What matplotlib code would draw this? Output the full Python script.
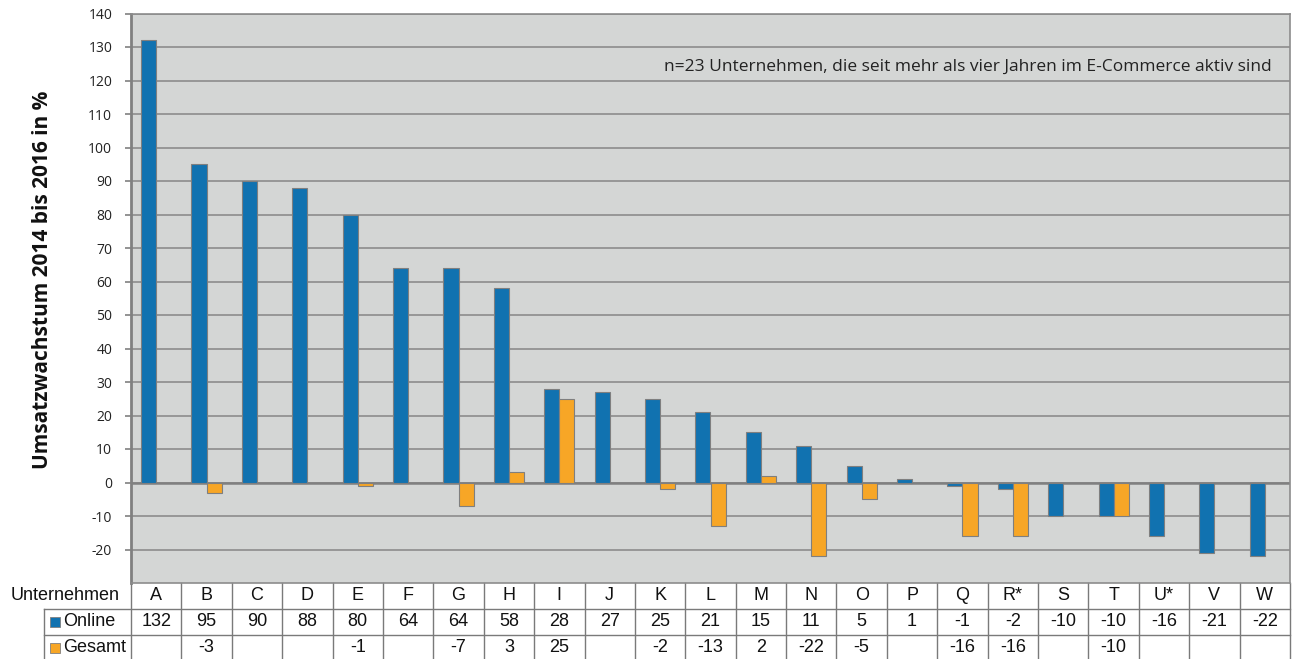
import matplotlib
matplotlib.use("Agg")
import matplotlib.pyplot as plt
import matplotlib.transforms as mtransforms
import numpy as np

# data
firmen = ["A", "B", "C", "D", "E", "F", "G", "H", "I", "J", "K", "L", "M",
          "N", "O", "P", "Q", "R*", "S", "T", "U*", "V", "W"]
online = [132, 95, 90, 88, 80, 64, 64, 58, 28, 27, 25, 21, 15,
          11, 5, 1, -1, -2, -10, -10, -16, -21, -22]
gesamt = [None, -3, None, None, -1, None, -7, 3, 25, None, -2, -13, 2,
          -22, -5, None, -16, -16, None, -10, None, None, None]
yticks = list(range(-20, 141, 10))

BLUE = "#1172B0"
ORANGE = "#F7A626"
EDGE = "#7f7f7f"
BG = "#D4D6D5"

W, H = 1295, 659
ax_l, ax_r, ax_t, ax_b = 131, 1290, 13.5, 583
fig = plt.figure(figsize=(W / 100, H / 100), dpi=100)
ax = fig.add_axes([ax_l / W, 1 - ax_b / H, (ax_r - ax_l) / W, (ax_b - ax_t) / H])
ax.set_facecolor(BG)

x = np.arange(len(firmen))
w = 0.3
ax.bar(x - w / 2, online, width=w, color=BLUE, edgecolor=EDGE, linewidth=0.8, zorder=3)
g_x = [i for i, v in enumerate(gesamt) if v is not None]
g_v = [v for v in gesamt if v is not None]
ax.bar(np.array(g_x) + w / 2, g_v, width=w, color=ORANGE, edgecolor=EDGE, linewidth=0.8, zorder=3)

ax.set_xlim(-0.5, len(firmen) - 0.5)
ax.set_ylim(-30, 140)
ax.set_yticks(yticks)
ax.set_yticklabels([str(t) for t in yticks], fontsize=10, family="Open Sans", color="#222222")
ax.set_xticks([])
ax.yaxis.grid(True, color="#8c8c8c", linewidth=1.2, zorder=1)
ax.axhline(0, color="#808080", linewidth=1.8, zorder=2)
ax.tick_params(axis="y", length=4.5, color="#808080", width=1.2, pad=9)
for s in ax.spines.values():
    s.set_color("#8c8c8c")
    s.set_linewidth(1.2)
ax.spines["left"].set_color("#808080")
ax.spines["left"].set_linewidth(2)

fig.text(43 / W, 1 - 280 / H, "Umsatzwachstum 2014 bis 2016 in %", rotation=90,
         ha="center", va="center", fontsize=15, fontweight="bold",
         family="Open Sans", color="#111111")

ax.text((1272 - ax_l) / (ax_r - ax_l), 124.2,
        "n=23 Unternehmen, die seit mehr als vier Jahren im E-Commerce aktiv sind",
        transform=mtransforms.blended_transform_factory(ax.transAxes, ax.transData),
        ha="right", va="center", fontsize=12.5, family="Open Sans", color="#222222")

# data table below the plot
tr = mtransforms.blended_transform_factory(ax.transData, ax.transAxes)
colw = (ax_r - ax_l) / len(firmen)
rh = 26 / (ax_b - ax_t)
n = len(firmen)
left_lab = -0.5 - (ax_l - 44) / colw
line_kw = dict(color="#7a7a7a", linewidth=1.0, transform=tr, clip_on=False)
tfont = dict(family="Liberation Sans", fontsize=13, color="#111111", transform=tr,
             clip_on=False, va="center")

# horizontal lines
ax.plot([left_lab, n - 0.5], [-rh, -rh], **line_kw)
ax.plot([left_lab, n - 0.5], [-2 * rh, -2 * rh], **line_kw)
ax.plot([left_lab, n - 0.5], [-3 * rh, -3 * rh], **line_kw)
# vertical lines
for k in range(n + 1):
    ax.plot([k - 0.5, k - 0.5], [0, -3 * rh], **line_kw)
ax.plot([left_lab, left_lab], [-rh, -3 * rh], **line_kw)

for i, name in enumerate(firmen):
    ax.text(i, -0.5 * rh, name, ha="center", **tfont)
    ax.text(i, -1.5 * rh, str(online[i]), ha="center", **tfont)
    if gesamt[i] is not None:
        ax.text(i, -2.5 * rh, str(gesamt[i]), ha="center", **tfont)

ax.text(-0.5 - 11 / colw, -0.5 * rh, "Unternehmen", ha="right", **tfont)
for row, (lab, col) in enumerate([("Online", BLUE), ("Gesamt", ORANGE)]):
    ax.plot([-0.5 - 76 / colw], [-(1.5 + row) * rh], marker="s", markersize=7,
            color=col, markeredgecolor=EDGE, markeredgewidth=0.6,
            transform=tr, clip_on=False)
    ax.text(-0.5 - 68 / colw, -(1.5 + row) * rh, lab, ha="left", **tfont)

fig.savefig("out.png", dpi=100, facecolor="white")
